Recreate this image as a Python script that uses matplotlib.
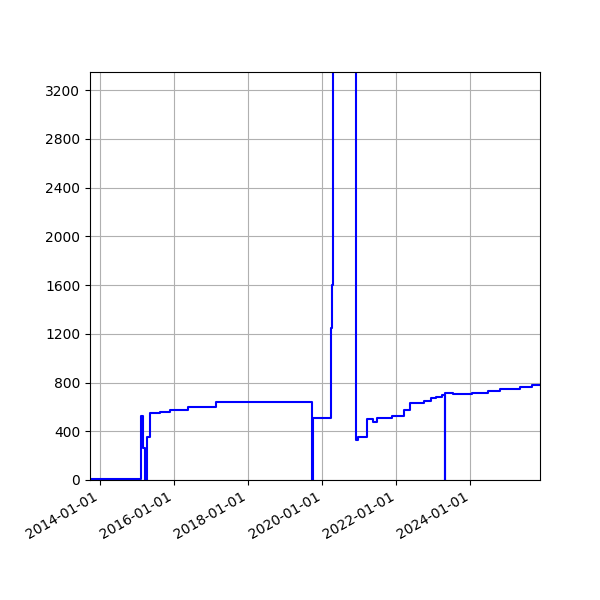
import matplotlib
matplotlib.use('Agg')
import matplotlib.pyplot as plt
import matplotlib.dates as mdates
import matplotlib.ticker as mticker
import pandas as pd

# change points of the series (value holds until the next date)
dates = [
    "2013-09-21", "2015-02-07", "2015-03-01", "2015-03-18", "2015-04-04",
    "2015-05-07", "2015-08-13", "2015-11-20", "2016-05-19", "2017-02-16",
    "2019-09-26", "2019-09-27", "2019-09-29", "2020-03-18", "2020-03-24",
    "2020-03-30", "2020-04-04", "2020-04-20", "2020-11-26", "2020-12-22",
    "2021-03-15", "2021-05-16", "2021-06-22", "2021-11-17", "2022-03-18",
    "2022-05-16", "2022-10-02", "2022-12-10", "2023-01-28", "2023-03-25",
    "2023-04-22", "2023-04-23", "2023-07-18", "2024-01-15", "2024-06-24",
    "2024-10-21", "2025-05-06", "2025-08-31", "2025-11-19",
]
values = [
    8, 525, 260, 0, 355,
    550, 562, 575, 601, 643,
    0, 328, 506, 506, 850,
    1250, 1600, 8000, 328, 355,
    500, 479, 511, 525, 574,
    634, 648, 670, 684, 697,
    0, 716, 703, 711, 733,
    744, 766, 777, 777,
]


def main():
    x = pd.to_datetime(dates)

    fig, ax = plt.subplots(figsize=(6, 6), dpi=100)
    ax.plot(x, values, color="blue", drawstyle="steps-post", linewidth=1.5)

    ax.set_xlim(x[0], x[-1])
    ax.set_ylim(0, 3350)
    ax.yaxis.set_major_locator(mticker.MultipleLocator(400))
    ax.xaxis.set_major_locator(mdates.YearLocator(2))
    ax.xaxis.set_major_formatter(mdates.DateFormatter("%Y-%m-%d"))
    ax.grid(True)

    fig.autofmt_xdate()
    fig.subplots_adjust(left=0.15, right=0.9, top=0.88, bottom=0.2)
    fig.savefig("out.png", dpi=100)


if __name__ == "__main__":
    main()
